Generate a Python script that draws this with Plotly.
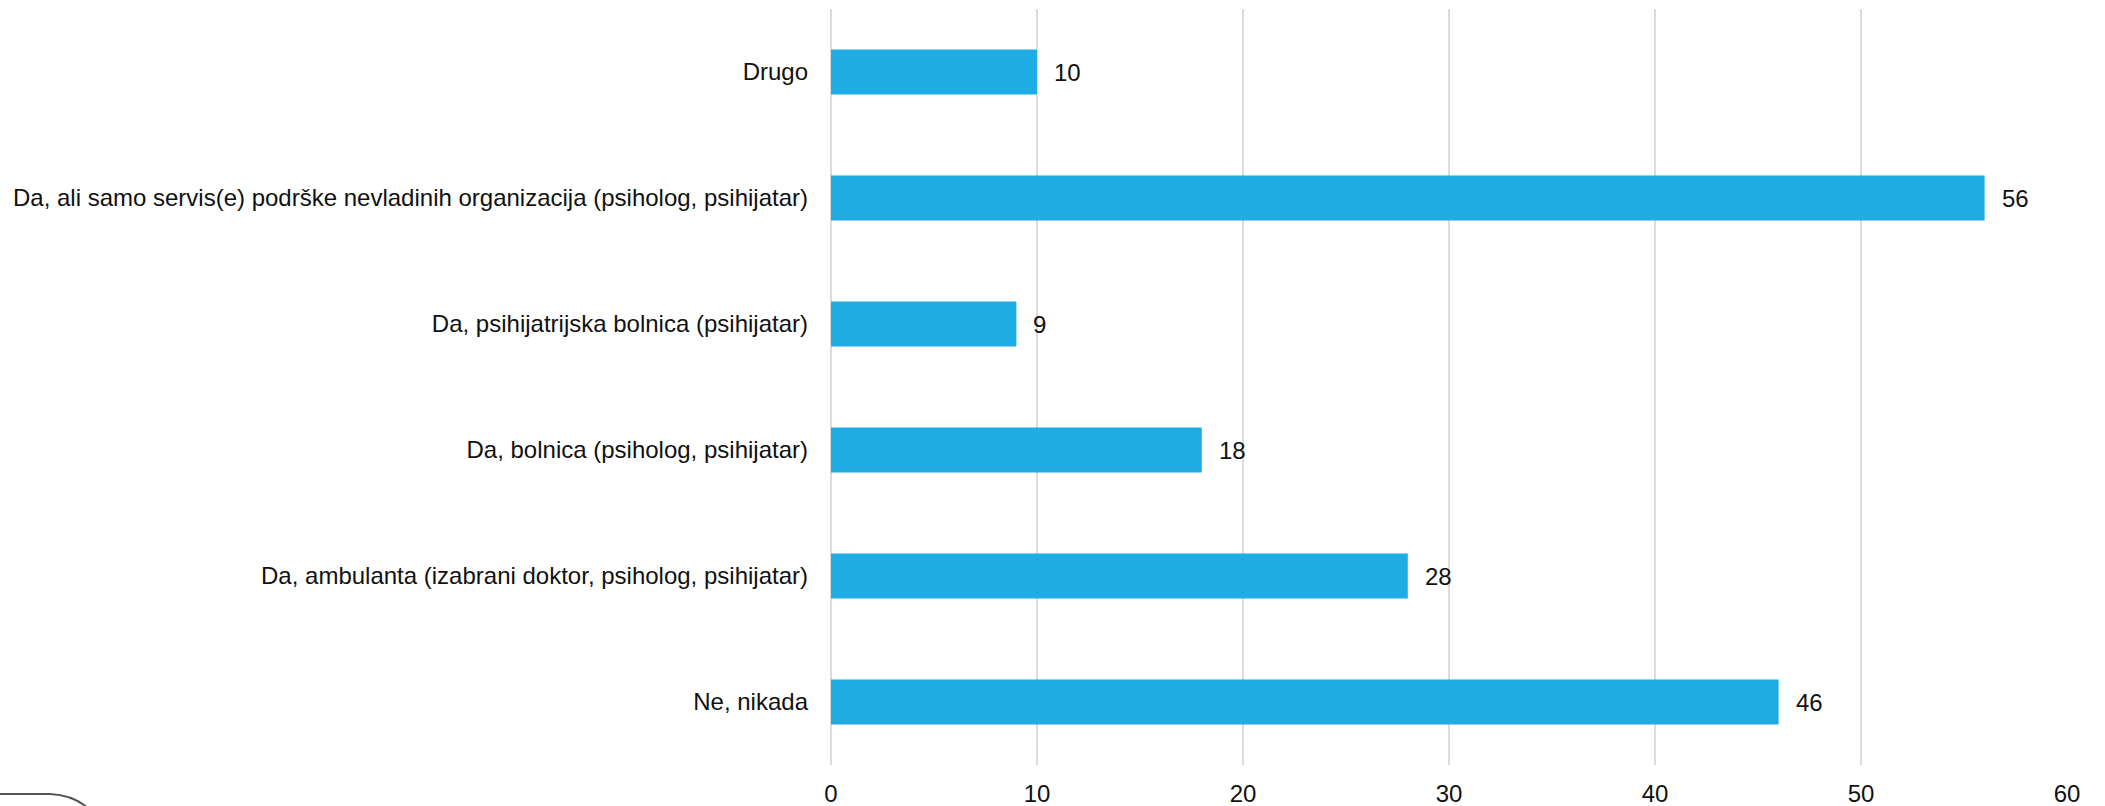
import plotly.graph_objects as go

categories = [
    "Ne, nikada",
    "Da, ambulanta (izabrani doktor, psiholog, psihijatar)",
    "Da, bolnica (psiholog, psihijatar)",
    "Da, psihijatrijska bolnica (psihijatar)",
    "Da, ali samo servis(e) podrške nevladinih organizacija (psiholog, psihijatar)",
    "Drugo",
]
values = [46, 28, 18, 9, 56, 10]
x_ticks = [0, 10, 20, 30, 40, 50, 60]

W, H = 2105, 806
ML, MR, MT, MB = 831, 38, 9, 41
PW, PH = W - ML - MR, H - MT - MB

FONT = "Arial, 'Liberation Sans', sans-serif"

fig = go.Figure()
fig.add_trace(go.Bar(
    x=values, y=categories, orientation="h",
    marker=dict(color="#1EACE2", line=dict(width=0)),
    hoverinfo="x+y",
))

for c, v in zip(categories, values):
    fig.add_annotation(x=v, y=c, text=str(v), showarrow=False,
                       xanchor="left", xshift=15,
                       font=dict(family=FONT, size=24, color="#111111"))

def px_to_paper(px, py):
    return (px - ML) / PW, (H - MB - py) / PH

p0 = px_to_paper(-5, 794)
p1 = px_to_paper(50, 794)
pc = px_to_paper(76, 795)
p2 = px_to_paper(92, 812)
path = f"M {p0[0]},{p0[1]} L {p1[0]},{p1[1]} Q {pc[0]},{pc[1]} {p2[0]},{p2[1]}"
fig.add_shape(type="path", path=path, xref="paper", yref="paper",
              line=dict(color="#555555", width=2), layer="above")

fig.update_layout(
    width=W, height=H, autosize=False,
    margin=dict(l=ML, r=MR, t=MT, b=MB, pad=0, autoexpand=False),
    paper_bgcolor="white", plot_bgcolor="white",
    bargap=0.643,
    showlegend=False,
    font=dict(family=FONT, size=24, color="#111111"),
    xaxis=dict(range=[0, 60], tickvals=x_ticks, showgrid=True,
               gridcolor="#DCDCDC", gridwidth=2, zeroline=True,
               zerolinecolor="#DCDCDC", zerolinewidth=2, showline=False,
               ticks="", ticklabelstandoff=12, automargin=False,
               tickfont=dict(family=FONT, size=24, color="#111111")),
    yaxis=dict(type="category", categoryorder="array", categoryarray=categories,
               showgrid=False, zeroline=False, showline=False, ticks="",
               ticklabelstandoff=22, automargin=False,
               tickfont=dict(family=FONT, size=24, color="#111111")),
)

fig.write_html("out.html", config={"displayModeBar": False},
               post_script="document.body.style.margin='0';document.body.style.overflow='hidden';")
